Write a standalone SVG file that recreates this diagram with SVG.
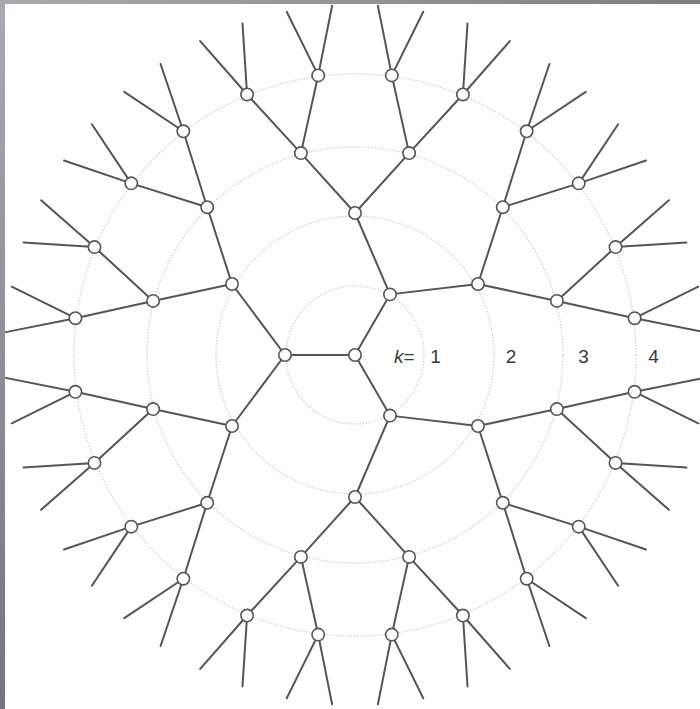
<svg xmlns="http://www.w3.org/2000/svg" width="700" height="709" viewBox="0 0 700 709">
<defs>
<linearGradient id="gl" x1="0" y1="0" x2="0" y2="1"><stop offset="0" stop-color="#aba8af"/><stop offset="1" stop-color="#77757b"/></linearGradient>
<linearGradient id="gt" x1="0" y1="0" x2="1" y2="0"><stop offset="0" stop-color="#aba8af"/><stop offset="1" stop-color="#7e7e7e"/></linearGradient>
</defs>
<style>
.ring{fill:none;stroke:#cfcfcf;stroke-width:1.3;stroke-dasharray:1.4 1.6}
.edge{fill:none;stroke:#555;stroke-width:2;stroke-linejoin:round;stroke-linecap:round}
.node circle{fill:#fff;stroke:#555;stroke-width:1.6}
.lbl{font-family:"Liberation Sans",Arial,sans-serif;font-size:19px;fill:#3a3a3a}
</style>
<rect width="700" height="709" fill="#fff"/>
<g id="rings">
<circle class="ring" cx="355" cy="355" r="69"/>
<circle class="ring" cx="355" cy="355" r="139"/>
<circle class="ring" cx="355" cy="355" r="208"/>
<circle class="ring" cx="355" cy="355" r="281"/>
</g>
<g id="connectors" class="edge">
<path d="M285,355 L355,355 M390,294.38 L355,355 L390,415.62"/>
<path d="M477.98,284 L390,294.38 L355,213"/>
<path d="M477.98,426 L390,415.62 L355,497"/>
<path d="M232.02,284 L285,355 L232.02,426"/>
<path d="M556.88,300.91 L477.98,284 L502.79,207.21"/>
<path d="M409.09,153.12 L355,213 L300.91,153.12"/>
<path d="M207.21,207.21 L232.02,284 L153.12,300.91"/>
<path d="M153.12,409.09 L232.02,426 L207.21,502.79"/>
<path d="M300.91,556.88 L355,497 L409.09,556.88"/>
<path d="M502.79,502.79 L477.98,426 L556.88,409.09"/>
<path d="M634.59,318.19 L556.88,300.91 L615.53,247.08"/>
<path d="M578.72,183.33 L502.79,207.21 L526.67,131.28"/>
<path d="M462.92,94.47 L409.09,153.12 L391.81,75.41"/>
<path d="M318.19,75.41 L300.91,153.12 L247.08,94.47"/>
<path d="M183.33,131.28 L207.21,207.21 L131.28,183.33"/>
<path d="M94.47,247.08 L153.12,300.91 L75.41,318.19"/>
<path d="M75.41,391.81 L153.12,409.09 L94.47,462.92"/>
<path d="M131.28,526.67 L207.21,502.79 L183.33,578.72"/>
<path d="M247.08,615.53 L300.91,556.88 L318.19,634.59"/>
<path d="M391.81,634.59 L409.09,556.88 L462.92,615.53"/>
<path d="M526.67,578.72 L502.79,502.79 L578.72,526.67"/>
<path d="M615.53,462.92 L556.88,409.09 L634.59,391.81"/>
<path d="M704.25,332.11 L634.59,318.19 L698.28,286.72"/>
<path d="M686.43,242.5 L615.53,247.08 L668.9,200.2"/>
<path d="M646.01,160.55 L578.72,183.33 L618.14,124.23"/>
<path d="M585.77,91.86 L526.67,131.28 L549.45,63.99"/>
<path d="M509.8,41.1 L462.92,94.47 L467.5,23.57"/>
<path d="M423.28,11.72 L391.81,75.41 L377.89,5.75"/>
<path d="M332.11,5.75 L318.19,75.41 L286.72,11.72"/>
<path d="M242.5,23.57 L247.08,94.47 L200.2,41.1"/>
<path d="M160.55,63.99 L183.33,131.28 L124.23,91.86"/>
<path d="M91.86,124.23 L131.28,183.33 L63.99,160.55"/>
<path d="M41.1,200.2 L94.47,247.08 L23.57,242.5"/>
<path d="M11.72,286.72 L75.41,318.19 L5.75,332.11"/>
<path d="M5.75,377.89 L75.41,391.81 L11.72,423.28"/>
<path d="M23.57,467.5 L94.47,462.92 L41.1,509.8"/>
<path d="M63.99,549.45 L131.28,526.67 L91.86,585.77"/>
<path d="M124.23,618.14 L183.33,578.72 L160.55,646.01"/>
<path d="M200.2,668.9 L247.08,615.53 L242.5,686.43"/>
<path d="M286.72,698.28 L318.19,634.59 L332.11,704.25"/>
<path d="M377.89,704.25 L391.81,634.59 L423.28,698.28"/>
<path d="M467.5,686.43 L462.92,615.53 L509.8,668.9"/>
<path d="M549.45,646.01 L526.67,578.72 L585.77,618.14"/>
<path d="M618.14,585.77 L578.72,526.67 L646.01,549.45"/>
<path d="M668.9,509.8 L615.53,462.92 L686.43,467.5"/>
<path d="M698.28,423.28 L634.59,391.81 L704.25,377.89"/>
</g>
<g id="nodes">
<g id="n0" class="node"><circle cx="355" cy="355" r="6.2"/></g>
<g id="n1a" class="node"><circle cx="285" cy="355" r="6.2"/></g>
<g id="n1b" class="node"><circle cx="390" cy="294.38" r="6.2"/></g>
<g id="n1c" class="node"><circle cx="390" cy="415.62" r="6.2"/></g>
<g id="n2a" class="node"><circle cx="477.98" cy="284" r="6.2"/></g>
<g id="n2b" class="node"><circle cx="355" cy="213" r="6.2"/></g>
<g id="n2c" class="node"><circle cx="232.02" cy="284" r="6.2"/></g>
<g id="n2d" class="node"><circle cx="232.02" cy="426" r="6.2"/></g>
<g id="n2e" class="node"><circle cx="355" cy="497" r="6.2"/></g>
<g id="n2f" class="node"><circle cx="477.98" cy="426" r="6.2"/></g>
<g id="n3a" class="node"><circle cx="556.88" cy="300.91" r="6.2"/></g>
<g id="n3b" class="node"><circle cx="502.79" cy="207.21" r="6.2"/></g>
<g id="n3c" class="node"><circle cx="409.09" cy="153.12" r="6.2"/></g>
<g id="n3d" class="node"><circle cx="300.91" cy="153.12" r="6.2"/></g>
<g id="n3e" class="node"><circle cx="207.21" cy="207.21" r="6.2"/></g>
<g id="n3f" class="node"><circle cx="153.12" cy="300.91" r="6.2"/></g>
<g id="n3g" class="node"><circle cx="153.12" cy="409.09" r="6.2"/></g>
<g id="n3h" class="node"><circle cx="207.21" cy="502.79" r="6.2"/></g>
<g id="n3i" class="node"><circle cx="300.91" cy="556.88" r="6.2"/></g>
<g id="n3j" class="node"><circle cx="409.09" cy="556.88" r="6.2"/></g>
<g id="n3k" class="node"><circle cx="502.79" cy="502.79" r="6.2"/></g>
<g id="n3l" class="node"><circle cx="556.88" cy="409.09" r="6.2"/></g>
<g id="n4a" class="node"><circle cx="634.59" cy="318.19" r="6.2"/></g>
<g id="n4b" class="node"><circle cx="615.53" cy="247.08" r="6.2"/></g>
<g id="n4c" class="node"><circle cx="578.72" cy="183.33" r="6.2"/></g>
<g id="n4d" class="node"><circle cx="526.67" cy="131.28" r="6.2"/></g>
<g id="n4e" class="node"><circle cx="462.92" cy="94.47" r="6.2"/></g>
<g id="n4f" class="node"><circle cx="391.81" cy="75.41" r="6.2"/></g>
<g id="n4g" class="node"><circle cx="318.19" cy="75.41" r="6.2"/></g>
<g id="n4h" class="node"><circle cx="247.08" cy="94.47" r="6.2"/></g>
<g id="n4i" class="node"><circle cx="183.33" cy="131.28" r="6.2"/></g>
<g id="n4j" class="node"><circle cx="131.28" cy="183.33" r="6.2"/></g>
<g id="n4k" class="node"><circle cx="94.47" cy="247.08" r="6.2"/></g>
<g id="n4l" class="node"><circle cx="75.41" cy="318.19" r="6.2"/></g>
<g id="n4m" class="node"><circle cx="75.41" cy="391.81" r="6.2"/></g>
<g id="n4n" class="node"><circle cx="94.47" cy="462.92" r="6.2"/></g>
<g id="n4o" class="node"><circle cx="131.28" cy="526.67" r="6.2"/></g>
<g id="n4p" class="node"><circle cx="183.33" cy="578.72" r="6.2"/></g>
<g id="n4q" class="node"><circle cx="247.08" cy="615.53" r="6.2"/></g>
<g id="n4r" class="node"><circle cx="318.19" cy="634.59" r="6.2"/></g>
<g id="n4s" class="node"><circle cx="391.81" cy="634.59" r="6.2"/></g>
<g id="n4t" class="node"><circle cx="462.92" cy="615.53" r="6.2"/></g>
<g id="n4u" class="node"><circle cx="526.67" cy="578.72" r="6.2"/></g>
<g id="n4v" class="node"><circle cx="578.72" cy="526.67" r="6.2"/></g>
<g id="n4w" class="node"><circle cx="615.53" cy="462.92" r="6.2"/></g>
<g id="n4x" class="node"><circle cx="634.59" cy="391.81" r="6.2"/></g>
</g>
<g id="labels" class="lbl">
<text x="394" y="363"><tspan font-style="italic">k</tspan>=</text>
<text x="435.5" y="363" text-anchor="middle">1</text>
<text x="511" y="363" text-anchor="middle">2</text>
<text x="583.5" y="363" text-anchor="middle">3</text>
<text x="653.5" y="363" text-anchor="middle">4</text>
</g>
<rect x="0" y="0" width="5" height="709" fill="url(#gl)"/>
<rect x="0" y="0" width="700" height="4" fill="url(#gt)"/>
</svg>
